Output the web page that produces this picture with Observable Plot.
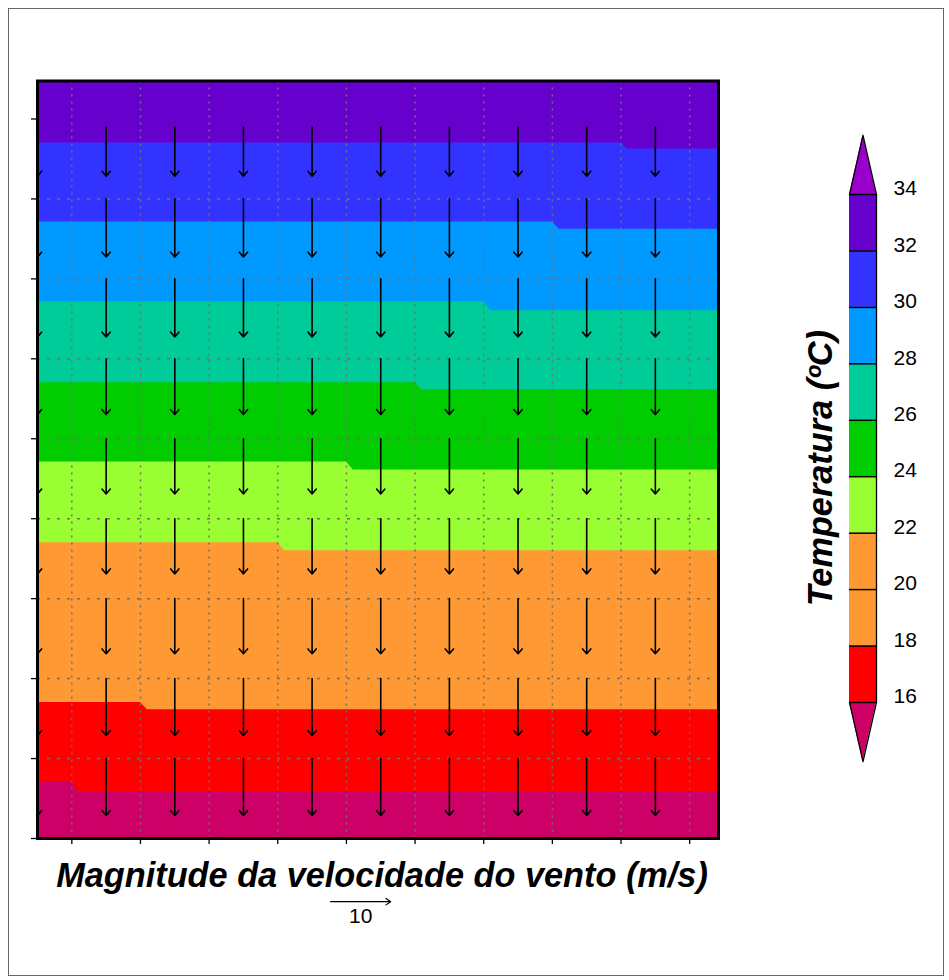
<!DOCTYPE html>
<html><head><meta charset="utf-8">
<script src="https://cdn.jsdelivr.net/npm/d3@7"></script>
<script src="https://cdn.jsdelivr.net/npm/@observablehq/plot@0.6"></script>
<style>
body{margin:0;background:#fff;}
#wrap{position:relative;width:949px;height:980px;overflow:hidden;}
#wrap svg{position:absolute;left:0;top:0;}
#wrap svg.leg{left:780px;top:100px;}
#border{position:absolute;left:8px;top:8px;width:934px;height:966px;border:1px solid #666;pointer-events:none;}
</style></head><body><div id="wrap"></div>
<script>
// ---------- data ----------
const columns = [0, 1, 2, 3, 4, 5, 6, 7, 8, 9];
const arrowRows = [8.9, 8, 7, 6, 5, 4, 3, 2, 1];
const windSpeed = [8.2, 9.7, 9.7, 9.3, 9.2, 9.2, 9.2, 9.5, 9.5];
const thresholds = [16, 18, 20, 22, 24, 26, 28, 30, 32, 34];
// colours: <16, 16-18, 18-20, 20-22, 22-24, 24-26, 26-28, 28-30, 30-32, 32-34, >34
const bandColors = ["#CC0066", "#FF0000", "#FF9933", "#FF9933", "#99FF33", "#00CC00", "#00CC99", "#0099FF", "#3333FF", "#6600CC", "#9900CC"];
// contour lines 16..32: height on left part, height on right part, column where it steps
const boundaryLeft = [0.70, 1.70, 2.70, 3.70, 4.71, 5.70, 6.71, 7.71, 8.70];
const boundaryRight = [0.575, 1.61, 2.60, 3.60, 4.61, 5.61, 6.60, 7.62, 8.625];
const boundaryStep = [0.5, 1.5, 2.5, 3.5, 4.5, 5.5, 6.5, 7.5, 8.5];
const gridX = [0.5, 1.5, 2.5, 3.5, 4.5, 5.5, 6.5, 7.5, 8.5, 9.5];
const gridY = [1, 2, 3, 4, 5, 6, 7, 8];
const tickY = [0, 1, 2, 3, 4, 5, 6, 7, 8, 9];
const refSpeed = [10];
const xLabel = "Magnitude da velocidade do vento (m/s)";
const legendTitle = "Temperatura (ºC)";
const legendTop = 36.1, legendBottom = 13.9;

// ---------- main plot ----------
const xMax = 9.92, yMax = 9.475;
const yPerMS = 0.075;          // vertical data units per m/s
const xPerMS = 6 / 68.65;      // horizontal data units per m/s
const refX = 4.27, refY = -0.79;

const bandMarks = [];
for (let i = boundaryLeft.length - 1; i >= 0; i--) {
  const pts = [
    {x: 0, y: boundaryLeft[i]},
    {x: boundaryStep[i], y: boundaryLeft[i]},
    {x: boundaryStep[i] + 0.1, y: boundaryRight[i]},
    {x: xMax, y: boundaryRight[i]}
  ];
  bandMarks.push(Plot.areaY(pts, {x: "x", y: "y", fill: bandColors[i]}));
}

const arrows = [];
arrowRows.forEach((r, j) => columns.forEach(c => arrows.push({x: c, y: r, s: windSpeed[j]})));

const minorX = d3.range(0, xMax, 0.125);

const main = Plot.plot({
  width: 949, height: 980,
  marginLeft: 37, marginRight: 231, marginTop: 80.5, marginBottom: 142,
  x: {domain: [0, xMax], axis: null},
  y: {domain: [0, yMax], axis: null},
  style: {fontFamily: "'Liberation Sans', Arial, sans-serif", background: "transparent", overflow: "visible"},
  marks: [
    Plot.frame({fill: bandColors[9], stroke: null}),
    ...bandMarks,
    Plot.ruleX(gridX, {stroke: "#707070", strokeWidth: 1.5, strokeDasharray: "2,5"}),
    Plot.ruleY(gridY, {stroke: "#707070", strokeWidth: 1.5, strokeDasharray: "3,7"}),
    Plot.arrow(arrows, {x1: "x", x2: "x", y1: "y", y2: d => d.y - d.s * yPerMS, stroke: "black", strokeWidth: 1.6, headLength: 6, headAngle: 80, clip: true}),
    Plot.frame({stroke: "black", strokeWidth: 3}),
    Plot.axisX(gridX, {anchor: "bottom", tickSize: 6, tickFormat: () => "", label: null, strokeWidth: 1.3}),
    Plot.axisX(minorX, {anchor: "bottom", tickSize: 2, tickFormat: () => "", label: null}),
    Plot.axisY(tickY, {anchor: "left", tickSize: 6, tickFormat: () => "", label: null, strokeWidth: 1.3}),
    Plot.text([xLabel], {frameAnchor: "bottom", dy: 48, dx: 4, text: d => d, fontSize: 34.3, fontWeight: "bold", fontStyle: "italic", fill: "black"}),
    Plot.arrow(refSpeed, {x1: () => refX, x2: d => refX + d * xPerMS, y1: () => refY, y2: () => refY, stroke: "black", strokeWidth: 1.2, headLength: 7, headAngle: 70}),
    Plot.text(refSpeed, {x: d => refX + d / 2 * xPerMS, y: () => refY - 0.18, text: d => String(d), fontSize: 21, fill: "black"})
  ]
});
document.getElementById("wrap").appendChild(main);

// ---------- legend ----------
const legendBands = thresholds.slice(0, -1).map((t, i) => ({lo: t, hi: thresholds[i + 1], color: bandColors[i + 1]}));
const outline = [
  {x: 0, y: thresholds[thresholds.length - 1]}, {x: 0.5, y: legendTop}, {x: 1, y: thresholds[thresholds.length - 1]},
  {x: 1, y: thresholds[0]}, {x: 0.5, y: legendBottom}, {x: 0, y: thresholds[0]}
];
const top3 = [{x: 0, y: 34}, {x: 0.5, y: legendTop}, {x: 1, y: 34}];
const bot3 = [{x: 0, y: 16}, {x: 0.5, y: legendBottom}, {x: 1, y: 16}];

const legend = Plot.plot({
  className: "leg",
  width: 169, height: 700,
  margin: 0,
  x: {domain: [0, 1], range: [69, 96], axis: null},
  y: {domain: [14, 36], range: [658.4, 37.6], axis: null},
  style: {fontFamily: "'Liberation Sans', Arial, sans-serif", background: "transparent", overflow: "visible"},
  marks: [
    Plot.rect(legendBands, {x1: () => 0, x2: () => 1, y1: "lo", y2: "hi", fill: "color"}),
    Plot.areaY(top3, {x: "x", y1: () => 34, y2: "y", fill: bandColors[10]}),
    Plot.areaY(bot3, {x: "x", y1: () => 16, y2: "y", fill: bandColors[0]}),
    Plot.ruleY(thresholds, {x1: () => 0, x2: () => 1, stroke: "black", strokeWidth: 1.5}),
    Plot.line(outline, {x: "x", y: "y", stroke: "black", strokeWidth: 1.3}),
    Plot.text(thresholds, {x: () => 1, y: d => d, dx: 17, dy: -6, text: d => String(d), textAnchor: "start", fontSize: 21, fill: "black"}),
    Plot.text([legendTitle], {x: () => -1.07, y: () => 24.3, text: d => d, rotate: -90, fontSize: 34.3, fontWeight: "bold", fontStyle: "italic", fill: "black"})
  ]
});
document.getElementById("wrap").appendChild(legend);

const border = document.createElement("div");
border.id = "border";
document.getElementById("wrap").appendChild(border);
</script>
</body></html>
